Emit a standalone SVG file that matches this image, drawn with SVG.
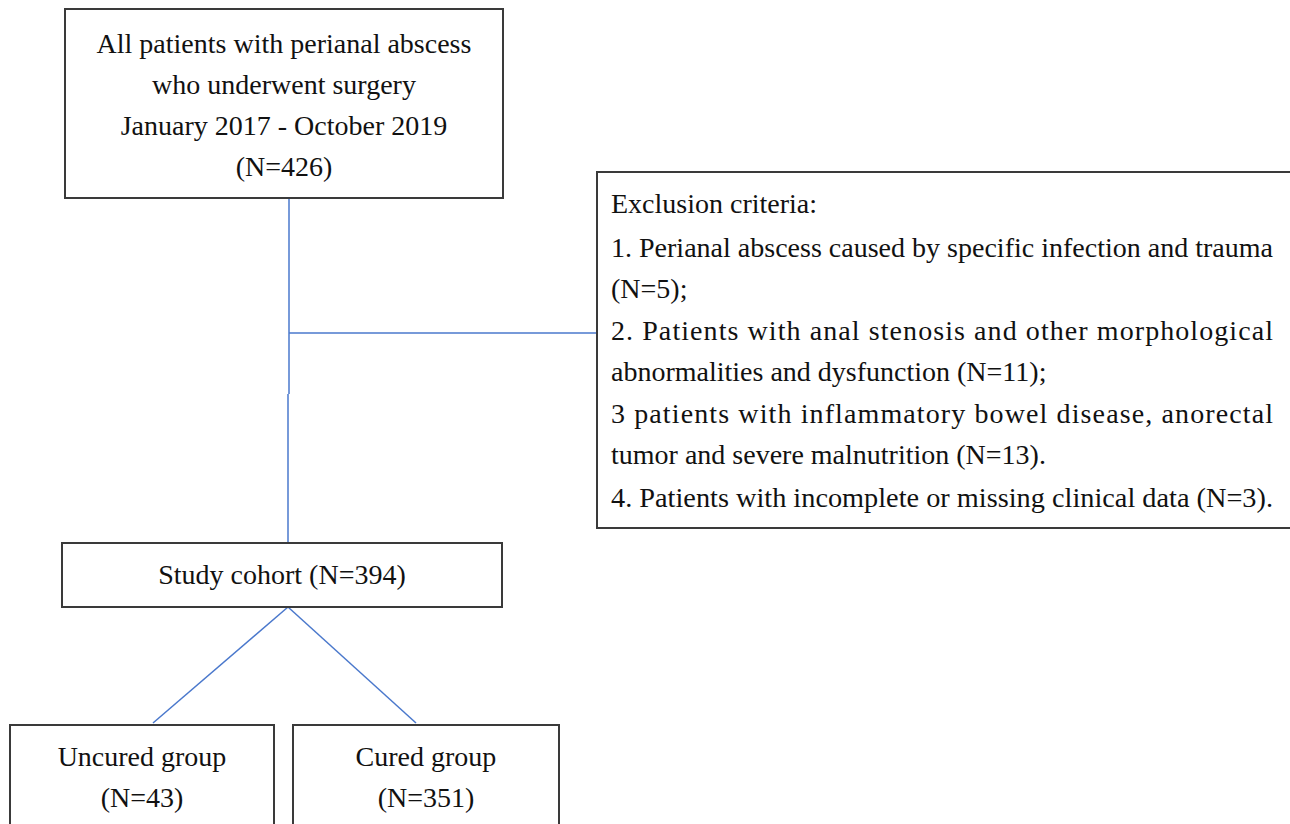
<svg xmlns="http://www.w3.org/2000/svg" width="1290" height="824" viewBox="0 0 1290 824">
<style>
.box{fill:#fff;stroke:#3a3a3a;stroke-width:2}
.t{font-family:"Liberation Serif","Times New Roman",serif;font-size:28px;fill:#111}
.c{text-anchor:middle}
.ln{stroke:#4a78cc;stroke-width:1.5;fill:none}
</style>
<rect width="1290" height="824" fill="#fff"/>
<g id="connectors">
<path class="ln" d="M289,198 V394"/>
<path class="ln" d="M288,394 V543"/>
<path class="ln" d="M289,333 H597"/>
<path class="ln" d="M288,607 L153,723"/>
<path class="ln" d="M288,607 L416,723"/>
</g>
<g id="all-patients">
<rect class="box" x="65" y="9" width="438" height="189"/>
<text class="t c" x="284" y="53">All patients with perianal abscess</text>
<text class="t c" x="284" y="94">who underwent surgery</text>
<text class="t c" x="284" y="135">January 2017 - October 2019</text>
<text class="t c" x="284" y="176">(N=426)</text>
</g>
<g id="exclusion">
<rect class="box" x="597" y="172" width="700" height="356"/>
<text class="t" x="611" y="213">Exclusion criteria:</text>
<text class="t" x="611" y="257" textLength="662" lengthAdjust="spacingAndGlyphs">1. Perianal abscess caused by specific infection and trauma</text>
<text class="t" x="611" y="298">(N=5);</text>
<text class="t" x="611" y="340" textLength="662" lengthAdjust="spacing">2. Patients with anal stenosis and other morphological</text>
<text class="t" x="611" y="381">abnormalities and dysfunction (N=11);</text>
<text class="t" x="611" y="423" textLength="662" lengthAdjust="spacing">3 patients with inflammatory bowel disease, anorectal</text>
<text class="t" x="611" y="464">tumor and severe malnutrition (N=13).</text>
<text class="t" x="611" y="507" textLength="662" lengthAdjust="spacingAndGlyphs">4. Patients with incomplete or missing clinical data (N=3).</text>
</g>
<g id="study-cohort">
<rect class="box" x="62" y="543" width="440" height="64"/>
<text class="t c" x="282" y="584">Study cohort (N=394)</text>
</g>
<g id="uncured">
<rect class="box" x="10" y="725" width="264" height="110"/>
<text class="t c" x="142" y="766">Uncured group</text>
<text class="t c" x="142" y="807">(N=43)</text>
</g>
<g id="cured">
<rect class="box" x="293" y="725" width="266" height="110"/>
<text class="t c" x="426" y="766">Cured group</text>
<text class="t c" x="426" y="807">(N=351)</text>
</g>
</svg>
